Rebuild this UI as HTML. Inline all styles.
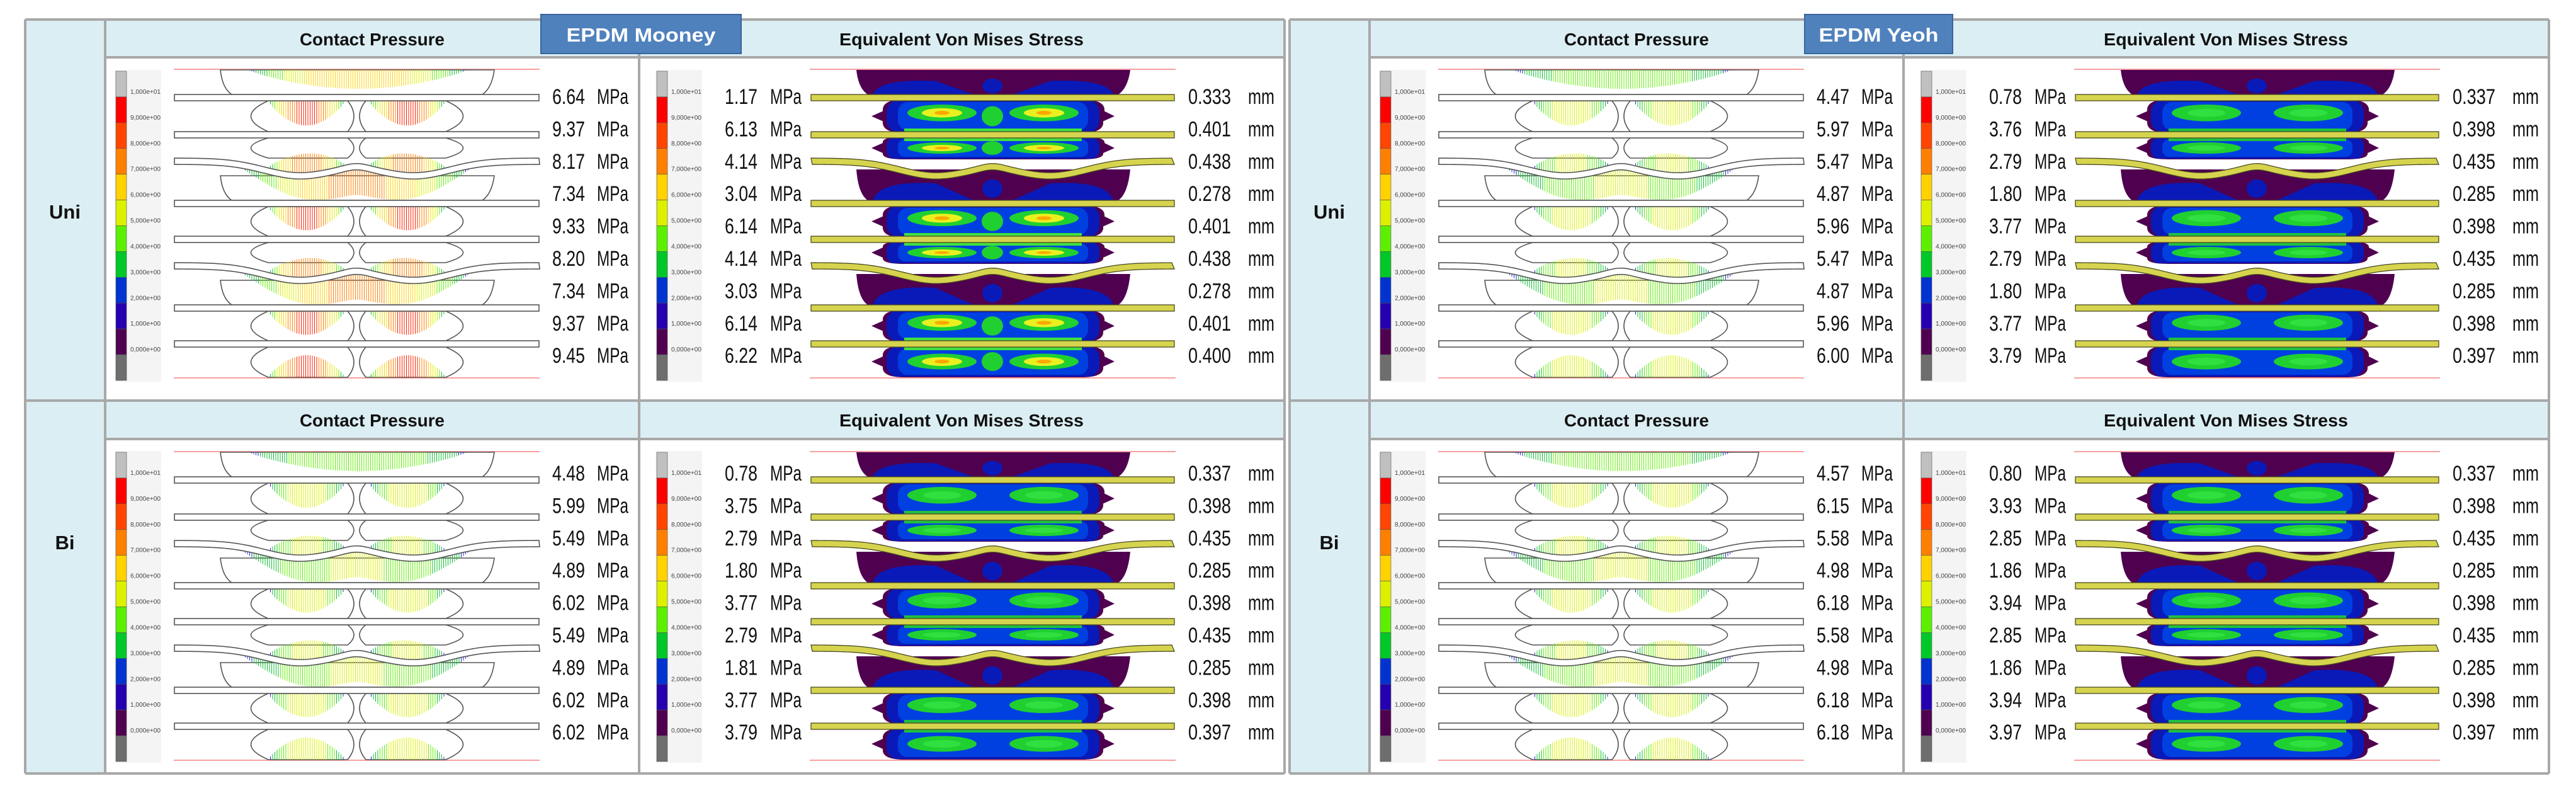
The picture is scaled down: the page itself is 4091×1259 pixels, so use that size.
<!DOCTYPE html>
<html><head><meta charset="utf-8"><style>
html,body{margin:0;padding:0;background:#fff;}
svg{display:block;}
text{font-family:"Liberation Sans",sans-serif;}
</style></head><body>
<svg id="s" width="4091" height="1259" viewBox="0 0 4091 1259" xmlns="http://www.w3.org/2000/svg"></svg>
<script>
// ---------- data ----------
const materials = ["EPDM Mooney", "EPDM Yeoh"];
const loadCases = ["Uni", "Bi"];
const cpMooneyUni = [6.64,9.37,8.17,7.34,9.33,8.20,7.34,9.37,9.45];
const cpMooneyBi  = [4.48,5.99,5.49,4.89,6.02,5.49,4.89,6.02,6.02];
const cpYeohUni   = [4.47,5.97,5.47,4.87,5.96,5.47,4.87,5.96,6.00];
const cpYeohBi    = [4.57,6.15,5.58,4.98,6.18,5.58,4.98,6.18,6.18];
const vmMooneyUni = [1.17,6.13,4.14,3.04,6.14,4.14,3.03,6.14,6.22];
const vmMooneyBi  = [0.78,3.75,2.79,1.80,3.77,2.79,1.81,3.77,3.79];
const vmYeohUni   = [0.78,3.76,2.79,1.80,3.77,2.79,1.80,3.77,3.79];
const vmYeohBi    = [0.80,3.93,2.85,1.86,3.94,2.85,1.86,3.94,3.97];
const dispMooneyUni = ["0.333","0.401","0.438","0.278","0.401","0.438","0.278","0.401","0.400"];
const dispMooneyBi  = ["0.337","0.398","0.435","0.285","0.398","0.435","0.285","0.398","0.397"];
const dispYeohUni   = ["0.337","0.398","0.435","0.285","0.398","0.435","0.285","0.398","0.397"];
const dispYeohBi    = ["0.337","0.398","0.435","0.285","0.398","0.435","0.285","0.398","0.397"];
const legendTicks = ["1,000e+01","9,000e+00","8,000e+00","7,000e+00","6,000e+00","5,000e+00","4,000e+00","3,000e+00","2,000e+00","1,000e+00","0,000e+00"];
const legendColors = ["#c0c0c0","#ff0000","#ff4500","#ff8000","#ffd200","#dcf000","#5cf000","#00c828","#0033d0","#2400b0","#4f0050","#6e6e6e"];

const NS="http://www.w3.org/2000/svg";
const S=document.getElementById('s');
function el(tag,attrs,parent){const e=document.createElementNS(NS,tag);for(const k in attrs)e.setAttribute(k,attrs[k]);(parent||S).appendChild(e);return e;}
function txt(str,attrs,parent){const e=el('text',attrs,parent);e.textContent=str;return e;}

function heat(t){
  const stops=["#2030d0","#10c030","#60f000","#dcf000","#ffd200","#ff8000","#ff2000"];
  t=Math.max(0,Math.min(1,t));const i=Math.min(stops.length-1,Math.round(t*(stops.length-1)));return stops[i];
}

const flatPlates=[46,105,214,271,380,437];
const curvedPlates=[147,313];
function curveY(c,x){
  const d=23;const g=(x0,w)=>Math.exp(-Math.pow((x-x0)/w,2));
  return c+d*(g(200,80)+g(382,80))-4*g(290,25);
}

function drawCP(g,maxT){
  const W=581;
  el('line',{x1:0,y1:1,x2:W,y2:1,stroke:'#f7a0a0','stroke-width':2},g);
  el('line',{x1:0,y1:491,x2:W,y2:491,stroke:'#f7a0a0','stroke-width':2},g);
  const sk={fill:'#fff',stroke:'#555','stroke-width':1.6};
  const caps=[[2,41],[152+18,209],[318+18,375]];
  caps.forEach(([a,b])=>{el('path',Object.assign({d:`M74,${a} L509,${a} Q505,${b-10} 490,${b} L92,${b} Q77,${b-10} 74,${a}Z`},sk),g);});
  const lobes=[[51,100],[110,142],[219,266],[276,308],[385,432],[442,490]];
  lobes.forEach(([a,b])=>{const m=(a+b)/2;
    el('path',Object.assign({d:`M276,${a} L150,${a} Q95,${m} 150,${b} L276,${b} Q296,${m} 276,${a}Z`},sk),g);
    el('path',Object.assign({d:`M305,${a} L432,${a} Q487,${m} 432,${b} L305,${b} Q285,${m} 305,${a}Z`},sk),g);
  });
  function fan(xa,xb,baseFn,dir,L,tmax){
    for(let x=xa;x<=xb;x+=3.5){const u=(x-xa)/(xb-xa);const s=Math.pow(Math.sin(Math.PI*u),0.8);
      const y0=baseFn(x);const l=L*s;el('line',{x1:x,y1:y0,x2:x,y2:y0+dir*l,stroke:heat(s*tmax),'stroke-width':1},g);}
  }
  fan(120,465,x=>2,1,30,maxT*0.75);
  [[51,100],[219,266],[385,432]].forEach(([a,b])=>{fan(150,272,x=>a,1,(b-a)*0.8,maxT);fan(310,432,x=>a,1,(b-a)*0.8,maxT);});
  [[147],[313]].forEach(([c])=>{fan(150,272,x=>curveY(c,x)-5,-1,30,maxT*0.9);fan(310,432,x=>curveY(c,x)-5,-1,30,maxT*0.9);
     fan(110,470,x=>curveY(c,x)+5,1,40,maxT*0.8);});
  [[490]].forEach(([b])=>{fan(150,272,x=>b,-1,35,maxT);fan(310,432,x=>b,-1,35,maxT);});
  flatPlates.forEach(c=>el('rect',{x:1,y:c-5,width:W-2,height:10,fill:'#fff',stroke:'#555','stroke-width':1.6},g));
  curvedPlates.forEach(c=>{let d='M1,'+(curveY(c,1)-5);for(let x=5;x<=W;x+=5)d+=` L${x},${curveY(c,x)-5}`;
    for(let x=W;x>=1;x-=5)d+=` L${x},${curveY(c,x)+5}`;d+='Z';el('path',{d,fill:'#fff',stroke:'#555','stroke-width':1.6},g);});
}

function drawVM(g,hot){
  const W=581;
  el('line',{x1:0,y1:1,x2:W,y2:1,stroke:'#f7a0a0','stroke-width':2},g);
  el('line',{x1:0,y1:491,x2:W,y2:491,stroke:'#f7a0a0','stroke-width':2},g);
  const P='#4f004f',B1='#0a1ab8',B2='#0040e0',G='#20d030',Y='#e8f020',O='#ffa800';
  const caps=[[2,41],[152+8,209],[318+8,375]];
  caps.forEach(([a,b])=>{el('path',{d:`M74,${a} L509,${a} Q505,${b-10} 490,${b} L92,${b} Q77,${b-10} 74,${a}Z`,fill:P},g);
    el('path',{d:`M100,${b} Q110,${a+(b-a)*0.35} 200,${a+(b-a)*0.45} L260,${b}Z`,fill:B1},g);
    el('path',{d:`M482,${b} Q472,${a+(b-a)*0.35} 382,${a+(b-a)*0.45} L322,${b}Z`,fill:B1},g);
    el('ellipse',{cx:290,cy:(a+b)/2+6,rx:16,ry:(b-a)*0.3,fill:B1},g);
  });
  const lobes=[[49,102],[108,144],[217,268],[274,310],[383,434],[440,490]];
  lobes.forEach(([a,b],i)=>{const m=(a+b)/2,h=b-a;
    // outer purple with side bumps
    el('path',{d:`M150,${a} L432,${a} Q470,${a} 468,${m-8} L484,${m} L466,${m+8} Q468,${b} 432,${b} L150,${b} Q114,${b} 116,${m+8} L98,${m} L116,${m-8} Q114,${a} 150,${a}Z`,fill:P},g);
    el('rect',{x:122,y:a+1,width:338,height:h-2,rx:h*0.35,fill:B1},g);
    el('rect',{x:140,y:a+4,width:302,height:h-8,rx:h*0.3,fill:B2},g);
    const up=(i%2===0);const cy=up?a+h*0.4:b-h*0.5;
    [[210],[372]].forEach(([cx])=>{el('ellipse',{cx,cy,rx:55,ry:h*0.25,fill:G},g);
      if(hot){el('ellipse',{cx,cy,rx:32,ry:h*0.14,fill:Y},g);el('ellipse',{cx,cy,rx:12,ry:h*0.06,fill:O},g);}
      else el('ellipse',{cx,cy,rx:30,ry:h*0.12,fill:'#30e040'},g);});
    el('ellipse',{cx:290,cy:m,rx:17,ry:h*0.3,fill:hot?G:B2},g);
    el('rect',{x:150,y:(up?b-7:a+1),width:282,height:6,fill:hot?'#40e040':'#20c040'},g);
  });
  const pf='#d6d44e',ps='#4a4a20';
  flatPlates.forEach(c=>el('rect',{x:2,y:c-5,width:W-4,height:10,fill:pf,stroke:ps,'stroke-width':1.3},g));
  curvedPlates.forEach(c=>{let d='M2,'+(curveY(c,2)-5);for(let x=5;x<=W-2;x+=5)d+=` L${x},${curveY(c,x)-5}`;
    for(let x=W-2;x>=2;x-=5)d+=` L${x},${curveY(c,x)+5}`;d+='Z';el('path',{d,fill:pf,stroke:ps,'stroke-width':1.3},g);});
}

function legend(x,y,h,name){
  const g=el('g',{},S);
  
  
  el('rect',{x:x-2,y:y-2,width:74,height:h+4,fill:'#f4f4f4'},g);
  const bh=h/legendColors.length;
  legendColors.forEach((c,i)=>el('rect',{x:x,y:y+i*bh,width:17,height:bh,fill:c,stroke:'#555','stroke-width':0.6},g));
  legendTicks.forEach((t,i)=>txt(t,{x:x+23,y:y+(i+1)*bh-5,'font-size':10,fill:'#444',textLength:48,lengthAdjust:'spacingAndGlyphs'},g));
}

function values(x,yc,step,arr,unit,numW,unitX,unitW,name){
  const g=el('g',{},S);
  
  
  arr.forEach((v,i)=>{const y=yc+i*step+12;const s=typeof v==='number'?v.toFixed(2):v;
    txt(s,{x:x,y:y,'font-size':34,fill:'#111',textLength:numW,lengthAdjust:'spacingAndGlyphs'},g);
    txt(unit,{x:unitX,y:y,'font-size':34,fill:'#111',textLength:unitW,lengthAdjust:'spacingAndGlyphs'},g);});
}

const tables=[
  {ox:40,mat:materials[0],badgeX:859,cp:[cpMooneyUni,cpMooneyBi],vm:[vmMooneyUni,vmMooneyBi],mm:[dispMooneyUni,dispMooneyBi],hot:[true,false]},
  {ox:2048,mat:materials[1],badgeX:2866,cp:[cpYeohUni,cpYeohBi],vm:[vmYeohUni,vmYeohBi],mm:[dispYeohUni,dispYeohBi],hot:[false,false]}
];
const rows=[{hy:31,hb:91,bb:636,plotY:109,valY:153,legY:113},{hy:636,hb:697,bb:1228,plotY:716,valY:751,legY:718}];
const LINE='#a8a8a8',HDR='#dbeef3';

tables.forEach((T,ti)=>{
  const ox=T.ox;const tag=T.mat.toLowerCase().replace(/\s+/g,'-');
  const tb=el('g',{},S);
  
  
  el('rect',{x:ox,y:31,width:2000,height:1197,fill:'#fff'},tb);
  el('rect',{x:ox,y:31,width:127,height:1197,fill:HDR},tb);
  rows.forEach((r,ri)=>{
    el('rect',{x:ox+127,y:r.hy,width:1873,height:r.hb-r.hy,fill:HDR},tb);
    const lb=txt(loadCases[ri],{x:ox+63,y:ri?872:347,'font-size':31,'font-weight':'bold','text-anchor':'middle',fill:'#111'},tb);
    
    
    const h1=txt('Contact Pressure',{x:ox+551,y:r.hy+41,'font-size':28,'font-weight':'bold','text-anchor':'middle',fill:'#111',textLength:230,lengthAdjust:'spacingAndGlyphs'},tb);
    
    
    const h2=txt('Equivalent Von  Mises Stress',{x:ox+1487,y:r.hy+41,'font-size':28,'font-weight':'bold','text-anchor':'middle',fill:'#111',textLength:388,lengthAdjust:'spacingAndGlyphs'},tb);
    
    
  });
  [[ox,31,ox+2000,31],[ox,1228,ox+2000,1228],[ox,31,ox,1228],[ox+2000,31,ox+2000,1228],[ox+127,31,ox+127,1228],[ox+975,31,ox+975,1228],
   [ox+127,91,ox+2000,91],[ox,636,ox+2000,636],[ox+127,697,ox+2000,697]].forEach(l=>el('line',{x1:l[0],y1:l[1],x2:l[2],y2:l[3],stroke:LINE,'stroke-width':4},tb));
  rows.forEach((r,ri)=>{
    const lc=loadCases[ri].toLowerCase();
    legend(ox+144,r.legY,491,tag+'-'+lc+'-cp-legend');
    const gc=el('g',{transform:`translate(${ox+236},${r.plotY})`},S);
    
    
    drawCP(gc,T.hot[ri]?1:0.55);
    values(ox+837,r.valY,51.4,T.cp[ri],'MPa',52,ox+908,50,tag+'-'+lc+'-cp-values');
    legend(ox+1003,r.legY,491,tag+'-'+lc+'-vm-legend');
    const gv=el('g',{transform:`translate(${ox+1246},${r.plotY})`},S);
    
    
    drawVM(gv,T.hot[ri]);
    values(ox+1111,r.valY,51.4,T.vm[ri],'MPa',52,ox+1183,50,tag+'-'+lc+'-vm-values');
    values(ox+1847,r.valY,51.4,T.mm[ri],'mm',68,ox+1942,42,tag+'-'+lc+'-displacement-values');
  });
  const bg=el('g',{},S);
  
  
  const bw=ti?235:318;
  el('rect',{x:T.badgeX,y:23,width:bw,height:62,fill:'#4f81bd',stroke:'#3a659a','stroke-width':2},bg);
  txt(T.mat,{x:T.badgeX+bw/2,y:66,'font-size':31,'font-weight':'bold','text-anchor':'middle',fill:'#fff',textLength:ti?190:237,lengthAdjust:'spacingAndGlyphs'},bg);
});
</script>
</body></html>
